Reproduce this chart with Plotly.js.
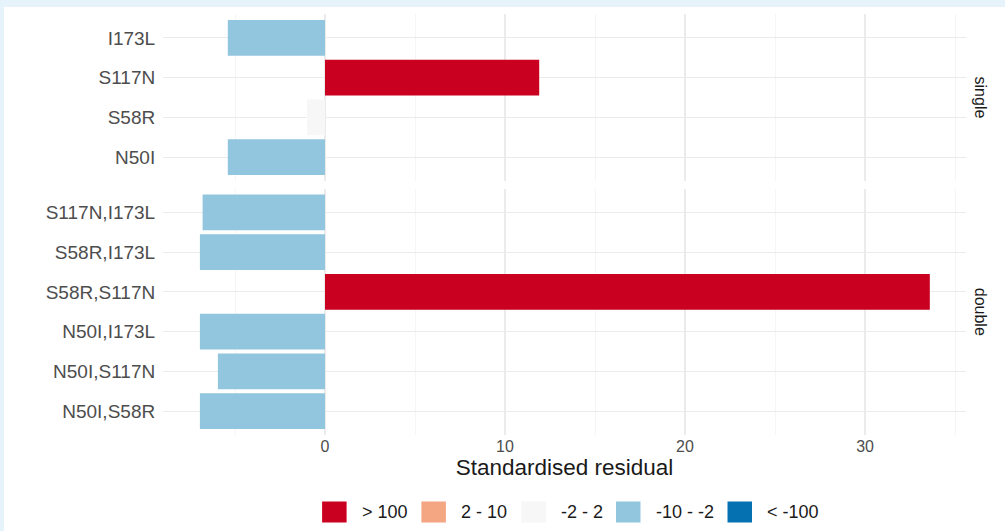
<!DOCTYPE html>
<html>
<head>
<meta charset="utf-8">
<script src="https://cdn.plot.ly/plotly-3.0.1.min.js"></script>
<style>
  html, body { margin: 0; padding: 0; width: 1005px; height: 531px; overflow: hidden; background: #e6f3fb; }
  #plot { position: absolute; left: 4px; top: 7px; width: 1001px; height: 524px; background: #ffffff; }
</style>
</head>
<body>
<div id="plot"></div>
<script>
// ---- data ----
const singleLabels = ['I173L', 'S117N', 'S58R', 'N50I'];
const singleValues = [-5.4, 11.9, -1.0, -5.4];
const singleBins   = ['-10 - -2', '> 100', '-2 - 2', '-10 - -2'];

const doubleLabels = ['S117N,I173L', 'S58R,I173L', 'S58R,S117N', 'N50I,I173L', 'N50I,S117N', 'N50I,S58R'];
const doubleValues = [-6.8, -6.95, 33.6, -6.95, -5.95, -6.95];
const doubleBins   = ['-10 - -2', '-10 - -2', '> 100', '-10 - -2', '-10 - -2', '-10 - -2'];

const facetLabels = ['single', 'double'];
const binLabels = ['> 100', '2 - 10', '-2 - 2', '-10 - -2', '< -100'];
const binColors = ['#ca0020', '#f4a582', '#f7f7f7', '#92c5de', '#0571b0'];

const xTitle = 'Standardised residual';

// ---- helpers ----
const colorOf = b => binColors[binLabels.indexOf(b)];
const FONT = 'Liberation Sans, Arial, Helvetica, sans-serif';

const W = 1001, H = 524;
const M = { l: 159, r: 39, t: 7, b: 96 };
const PW = W - M.l - M.r, PH = H - M.t - M.b;
// pixel (div coords) -> paper coords, used only for legend placement
const px = p => (p - M.l) / PW;
const py = p => (M.t + PH - p) / PH;

const traces = [
  {
    type: 'bar', orientation: 'h',
    x: singleValues, y: singleLabels,
    xaxis: 'x', yaxis: 'y',
    width: 0.9,
    marker: { color: singleBins.map(colorOf), line: { width: 0 } },
    showlegend: false, hoverinfo: 'x+y'
  },
  {
    type: 'bar', orientation: 'h',
    x: doubleValues, y: doubleLabels,
    xaxis: 'x', yaxis: 'y2',
    width: 0.9,
    marker: { color: doubleBins.map(colorOf), line: { width: 0 } },
    showlegend: false, hoverinfo: 'x+y'
  }
];

// legend keys (manual, ggplot-like) -- positions in div pixels
const keyX = [318.1, 417.4, 517.4, 612, 723.5];
const keyW = 24.5, keyTop = 494.5, keyBot = 515.5;
const shapes = [];
const annotations = [];
binLabels.forEach((lab, i) => {
  shapes.push({
    type: 'rect', xref: 'paper', yref: 'paper',
    x0: px(keyX[i]), x1: px(keyX[i] + keyW), y0: py(keyBot), y1: py(keyTop),
    fillcolor: binColors[i], line: { width: 0 }, layer: 'above'
  });
  annotations.push({
    xref: 'paper', yref: 'paper',
    x: px(keyX[i] + keyW + 13), y: py((keyTop + keyBot) / 2),
    xanchor: 'left', yanchor: 'middle', showarrow: false,
    text: lab, font: { family: FONT, size: 18, color: '#1a1a1a' }
  });
});

// facet strip labels
annotations.push({
  xref: 'paper', yref: 'y domain', x: 1, y: 0.5, xshift: 14,
  xanchor: 'center', yanchor: 'middle', textangle: 90, showarrow: false,
  text: facetLabels[0], font: { family: FONT, size: 16, color: '#1a1a1a' }
});
annotations.push({
  xref: 'paper', yref: 'y2 domain', x: 1, y: 0.5, xshift: 14,
  xanchor: 'center', yanchor: 'middle', textangle: 90, showarrow: false,
  text: facetLabels[1], font: { family: FONT, size: 16, color: '#1a1a1a' }
});

const gridMajor = '#ebebeb';
const gridMinor = '#f2f2f2';

const layout = {
  width: W, height: H,
  margin: M,
  paper_bgcolor: '#ffffff', plot_bgcolor: '#ffffff',
  font: { family: FONT },
  showlegend: false,
  xaxis: {
    anchor: 'y2', domain: [0, 1],
    range: [-9.0, 35.61],
    tick0: 0, dtick: 10,
    showgrid: true, gridcolor: gridMajor, gridwidth: 1.1,
    minor: { tick0: 0, dtick: 5, showgrid: true, gridcolor: gridMinor, gridwidth: 0.8 },
    zeroline: false, showline: false,
    ticks: '',
    tickfont: { family: FONT, size: 16, color: '#4d4d4d' },
    title: { text: xTitle, font: { family: FONT, size: 22.5, color: '#1a1a1a' }, standoff: 2 }
  },
  yaxis: {
    domain: [0.6032, 1],
    type: 'category', categoryorder: 'array', categoryarray: singleLabels,
    range: [singleLabels.length - 0.4, -0.6],
    showgrid: true, gridcolor: gridMajor, gridwidth: 1,
    zeroline: false, showline: false,
    ticks: 'outside', ticklen: 3, tickcolor: 'rgba(0,0,0,0)',
    tickfont: { family: FONT, size: 19, color: '#4d4d4d' }
  },
  yaxis2: {
    domain: [0, 0.5854],
    anchor: 'x',
    type: 'category', categoryorder: 'array', categoryarray: doubleLabels,
    range: [doubleLabels.length - 0.4, -0.6],
    showgrid: true, gridcolor: gridMajor, gridwidth: 1,
    zeroline: false, showline: false,
    ticks: 'outside', ticklen: 3, tickcolor: 'rgba(0,0,0,0)',
    tickfont: { family: FONT, size: 19, color: '#4d4d4d' }
  },
  shapes: shapes,
  annotations: annotations
};

Plotly.newPlot('plot', traces, layout, { displayModeBar: false, staticPlot: true });
</script>
</body>
</html>
